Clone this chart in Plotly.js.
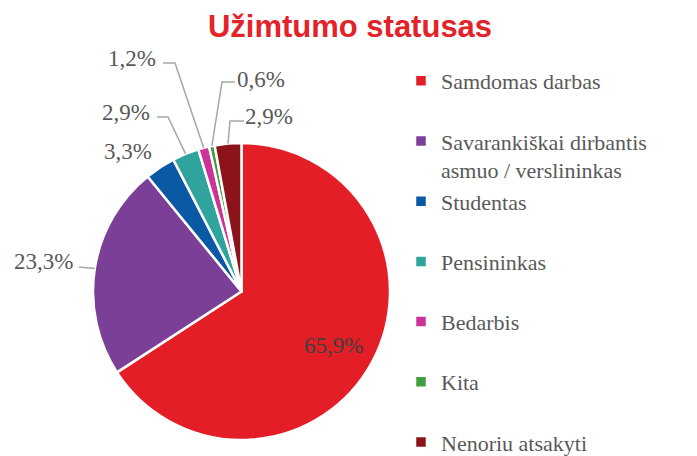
<!DOCTYPE html>
<html><head><meta charset="utf-8">
<script src="https://cdn.plot.ly/plotly-3.0.1.min.js"></script>
<style>html,body{margin:0;padding:0;background:#fff}</style>
</head><body>
<div id="chart" style="width:697px;height:456px"></div>
<script>
// ---- data ----
const categories = ["Samdomas darbas", "Savarankiškai dirbantis asmuo / verslininkas", "Studentas", "Pensininkas", "Bedarbis", "Kita", "Nenoriu atsakyti"];
const legendLabels = ["Samdomas darbas<br>\u00A0", "Savarankiškai dirbantis<br>asmuo / verslininkas", "Studentas<br>\u00A0", "Pensininkas<br>\u00A0", "Bedarbis<br>\u00A0", "Kita<br>\u00A0", "Nenoriu atsakyti"];
const values = [65.9, 23.3, 3.3, 2.9, 1.2, 0.6, 2.9];
const valueLabels = ["65,9%", "23,3%", "3,3%", "2,9%", "1,2%", "0,6%", "2,9%"];
const colors = ["#E31E26", "#7C3F98", "#0B58A5", "#2FA39C", "#CC3399", "#3F9E3F", "#8C1319"];

// ---- layout constants (pixels) ----
const W = 697, H = 456;
const CX = 241.5, CY = 291.5, R = 148.5;
const labelPos = [[333, 345], [43, 261], [128, 151], [126, 112], [132, 58], [261, 79], [269, 116]];
const leaderStart = [null, [[79, 267]], null, [[157, 117], [168, 117]], [[163, 63], [175, 63]], [[235, 82], [222, 82]], [[244, 121], [230, 121]]];

const px = x => x / W, py = y => 1 - y / H;
const total = values.reduce((a, b) => a + b, 0);

const annotations = [];
const shapes = [];
let cum = 0;
values.forEach((v, i) => {
  const th = 2 * Math.PI * (cum + v / 2) / total;
  cum += v;
  const ex = CX + R * Math.sin(th), ey = CY - R * Math.cos(th);
  annotations.push({
    x: px(labelPos[i][0]), y: py(labelPos[i][1]), xref: 'paper', yref: 'paper',
    text: valueLabels[i], showarrow: false, xanchor: 'center', yanchor: 'middle',
    font: {family: 'Liberation Serif, Times New Roman, serif', size: 23, color: i === 0 ? '#404040' : '#595959'}
  });
  if (leaderStart[i]) {
    const pts = leaderStart[i].concat([[ex, ey]]);
    const d = pts.map((p, k) => (k ? 'L' : 'M') + px(p[0]).toFixed(5) + ',' + py(p[1]).toFixed(5)).join(' ');
    shapes.push({type: 'path', xref: 'paper', yref: 'paper', path: d, line: {color: '#A6A6A6', width: 1.5}});
  }
});

const trace = {
  type: 'pie',
  labels: legendLabels,
  values: values,
  sort: false,
  direction: 'clockwise',
  rotation: 0,
  textinfo: 'none',
  hoverinfo: 'label+percent',
  marker: {colors: colors, line: {color: '#FFFFFF', width: 2.5}},
  domain: {x: [px(CX - R), px(CX + R)], y: [py(CY + R), py(CY - R)]}
};

const layout = {
  width: W, height: H,
  margin: {l: 0, r: 0, t: 0, b: 0, autoexpand: false},
  paper_bgcolor: '#FFFFFF', plot_bgcolor: '#FFFFFF',
  title: {text: 'Užimtumo statusas', x: 350 / W, xanchor: 'center', y: 1 - 26 / H, yanchor: 'middle',
    font: {family: 'Liberation Sans, Arial, sans-serif', size: 31, weight: 'bold', color: '#E42229'}},
  showlegend: true,
  legend: {x: 401 / W, xanchor: 'left', y: 1 - 60 / H, yanchor: 'top', valign: 'top',
    font: {family: 'Liberation Serif, Times New Roman, serif', size: 22, color: '#595959'},
    bgcolor: 'rgba(0,0,0,0)', borderwidth: 0, maxheight: 1},
  annotations: annotations,
  shapes: shapes
};

Plotly.newPlot('chart', [trace], layout, {displayModeBar: false, staticPlot: true});
</script>
</body></html>
